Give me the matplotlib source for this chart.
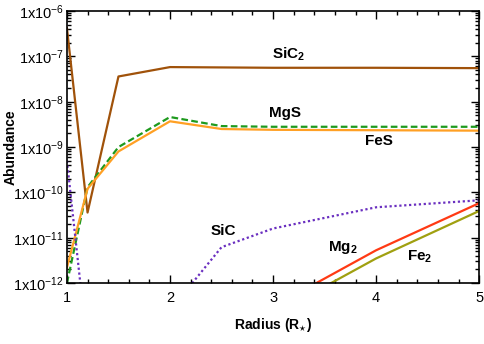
import matplotlib
matplotlib.use("Agg")
import matplotlib.pyplot as plt
import numpy as np
from matplotlib.ticker import FixedLocator, MultipleLocator, LogLocator, NullFormatter

plt.rcParams['font.family'] = ['Liberation Sans', 'DejaVu Sans']
plt.rcParams['mathtext.fontset'] = 'custom'
plt.rcParams['mathtext.rm'] = 'Liberation Sans'
plt.rcParams['mathtext.it'] = 'Liberation Sans:italic'
plt.rcParams['mathtext.bf'] = 'Liberation Sans:bold'

# radius grid (R*)
radius = [1.0, 1.2, 1.5, 2.0, 2.5, 3.0, 4.0, 5.0]

# abundances
sic2 = [4.2e-7, 3.6e-11, 3.6e-8, 5.8e-8, 5.7e-8, 5.6e-8, 5.6e-8, 5.5e-8]
mgs = [1.0e-12, 1.3e-10, 1.0e-9, 4.6e-9, 2.9e-9, 2.8e-9, 2.8e-9, 2.8e-9]
fes = [2.2e-12, 1.2e-10, 8.0e-10, 3.7e-9, 2.5e-9, 2.4e-9, 2.35e-9, 2.3e-9]
sic = [5.0e-10, 3.5e-14, 1.0e-15, 2.5e-13, 6.2e-12, 1.6e-11, 4.7e-11, 6.7e-11]

radius_m = [3.0, 4.0, 5.0]
mg2 = [3.0e-13, 5.3e-12, 5.8e-11]
fe2 = [2.0e-13, 3.5e-12, 3.9e-11]

exps = list(range(-12, -5))

fig = plt.figure(figsize=(4.85, 3.44), dpi=100)
ax = fig.add_axes([0.138, 0.177, 0.850, 0.791])

ax.plot(radius, sic2, color='#A0520A', lw=1.6)
ax.plot(radius, mgs, color='#1E9A1E', lw=1.6, ls=(0, (3, 1.5)))
ax.plot(radius, fes, color='#FFA024', lw=1.6)
ax.plot(radius, sic, color='#6A2FC0', lw=1.6, ls=(0, (1, 1.2)))
ax.plot(radius_m, mg2, color='#FF3A14', lw=1.6)
ax.plot(radius_m, fe2, color='#A0A010', lw=1.6)

ax.set_yscale('log')
ax.set_xlim(1, 5)
ax.set_ylim(1e-12, 1e-6)

ax.xaxis.set_major_locator(MultipleLocator(1))
ax.xaxis.set_minor_locator(MultipleLocator(0.2))
ax.yaxis.set_major_locator(FixedLocator([10.0**k for k in exps]))
ax.yaxis.set_minor_locator(LogLocator(base=10, subs=np.arange(2, 10), numticks=20))
ax.yaxis.set_minor_formatter(NullFormatter())
ax.set_yticklabels(['1x10$^{%d}$' % k for k in exps])

ax.tick_params(which='both', direction='in', top=True, right=True, labelsize=10.5, width=1.0)
ax.tick_params(which='major', length=6)
ax.tick_params(which='minor', length=3)
ax.tick_params(axis='x', pad=6)
ax.tick_params(axis='y', pad=2)
for s in ax.spines.values():
    s.set_linewidth(1.2)

ax.set_xlabel(r'Radius (R$_{\star}$)', fontsize=10, fontweight='bold', labelpad=8)
ax.set_ylabel('Abundance', fontsize=10, fontweight='bold')
ax.yaxis.set_label_coords(-0.12, 0.5)

lab = dict(fontsize=11, fontweight='bold', ha='center', va='center')
ax.text(3.15, 1.1e-7, r'SiC$_{\mathbf{2}}$', **lab)
ax.text(3.12, 5.5e-9, 'MgS', **lab)
ax.text(4.03, 1.35e-9, 'FeS', **lab)
ax.text(2.52, 1.4e-11, 'SiC', **lab)
ax.text(3.68, 6.0e-12, r'Mg$_{\mathbf{2}}$', **lab)
ax.text(4.42, 3.8e-12, r'Fe$_{\mathbf{2}}$', **lab)

fig.savefig('out.png', dpi=100)
